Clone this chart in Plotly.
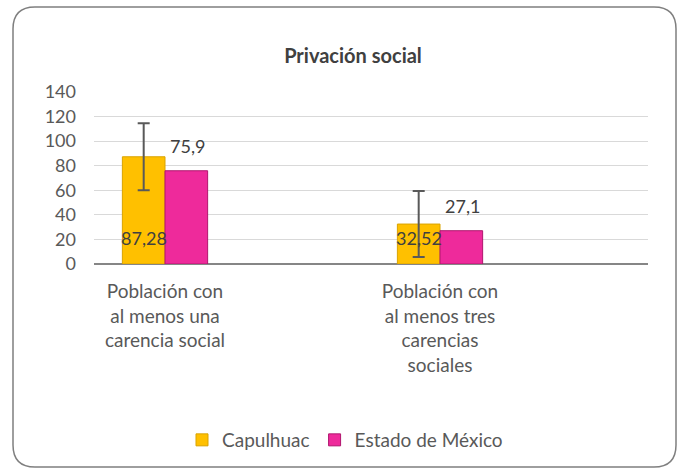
import plotly.graph_objects as go

categories = ["Población con<br>al menos una<br>carencia social",
              "Población con<br>al menos tres<br>carencias<br>sociales"]
capulhuac = [87.28, 32.52]
capulhuac_err = [27.3, 26.8]
estado = [75.9, 27.1]
capulhuac_labels = ["87,28", "32,52"]
estado_labels = ["75,9", "27,1"]
y_ticks = [0, 20, 40, 60, 80, 100, 120, 140]

W, H = 679, 476
L, R, T, B = 94, 31, 92, 212
pw, ph = W - L - R, H - T - B

FONT = "Lato"
GRAY = "#595959"
LABEL_FONT = dict(family=FONT, size=18, color="#404040")

xpos = [0, 1]

fig = go.Figure()
fig.add_trace(go.Bar(
    x=xpos, y=capulhuac, name="Capulhuac",
    marker=dict(color="#FFC000", line=dict(color="#D9A300", width=1)),
    error_y=dict(type="data", array=capulhuac_err, visible=True,
                 color=GRAY, thickness=2, width=6),
))
fig.add_trace(go.Bar(
    x=xpos, y=estado, name="Estado de México",
    marker=dict(color="#EE2A9B", line=dict(color="#B0166E", width=1)),
))

# data labels (Capulhuac near the base, Estado above its bar)
for xi, lab in zip(xpos, capulhuac_labels):
    fig.add_annotation(x=xi, y=0, text=lab, showarrow=False, xref="x", yref="y",
                       xanchor="center", yanchor="middle", xshift=-21, yshift=26,
                       font=LABEL_FONT)
for xi, val, lab in zip(xpos, estado, estado_labels):
    fig.add_annotation(x=xi, y=val, text=lab, showarrow=False, xref="x", yref="y",
                       xanchor="center", yanchor="bottom", xshift=22, yshift=12,
                       font=LABEL_FONT)

left = 0 - (165 - L) / 275
right = 1 + (L + pw - 440) / 275

fig.update_layout(
    width=W, height=H,
    margin=dict(l=L, r=R, t=T, b=B),
    paper_bgcolor="white", plot_bgcolor="white",
    barmode="group", bargap=0.69, bargroupgap=0,
    font=dict(family=FONT, size=18, color=GRAY),
    title=dict(text="<b>Privación social</b>", x=353 / W, xanchor="center",
               y=1 - 56 / H, yanchor="middle",
               font=dict(family=FONT, size=20, color="#404040")),
    xaxis=dict(range=[left, right], tickmode="array", tickvals=xpos,
               ticktext=categories, showgrid=False, zeroline=False,
               showline=False, ticks="", ticklabelstandoff=14,
               tickfont=dict(size=19, color=GRAY)),
    yaxis=dict(range=[0, 140], tickvals=y_ticks, showgrid=True,
               gridcolor="#D9D9D9", gridwidth=1, zeroline=True,
               zerolinecolor="#868686", zerolinewidth=2,
               showline=False, ticks="", ticklabelstandoff=17,
               tickfont=dict(size=18, color=GRAY)),
    legend=dict(orientation="h", x=(345 - L) / pw, xanchor="center",
                y=(T + ph - 440) / ph, yanchor="middle",
                font=dict(size=19, color=GRAY), itemwidth=30,
                traceorder="normal"),
    showlegend=True,
)

def px(xp):
    return (xp - L) / pw
def py(yp):
    return (T + ph - yp) / ph

x0, y0, x1, y1, r = 13, 7, 676, 467, 22
path = (f"M {px(x0 + r)},{py(y0)} L {px(x1 - r)},{py(y0)} "
        f"Q {px(x1)},{py(y0)} {px(x1)},{py(y0 + r)} "
        f"L {px(x1)},{py(y1 - r)} Q {px(x1)},{py(y1)} {px(x1 - r)},{py(y1)} "
        f"L {px(x0 + r)},{py(y1)} Q {px(x0)},{py(y1)} {px(x0)},{py(y1 - r)} "
        f"L {px(x0)},{py(y0 + r)} Q {px(x0)},{py(y0)} {px(x0 + r)},{py(y0)} Z")
fig.add_shape(type="path", path=path, xref="paper", yref="paper",
              line=dict(color="#7F7F7F", width=1.5), layer="below")

fig.write_html("out.html", config={"displayModeBar": False},
               post_script="document.body.style.margin='0';document.body.style.padding='0';")
